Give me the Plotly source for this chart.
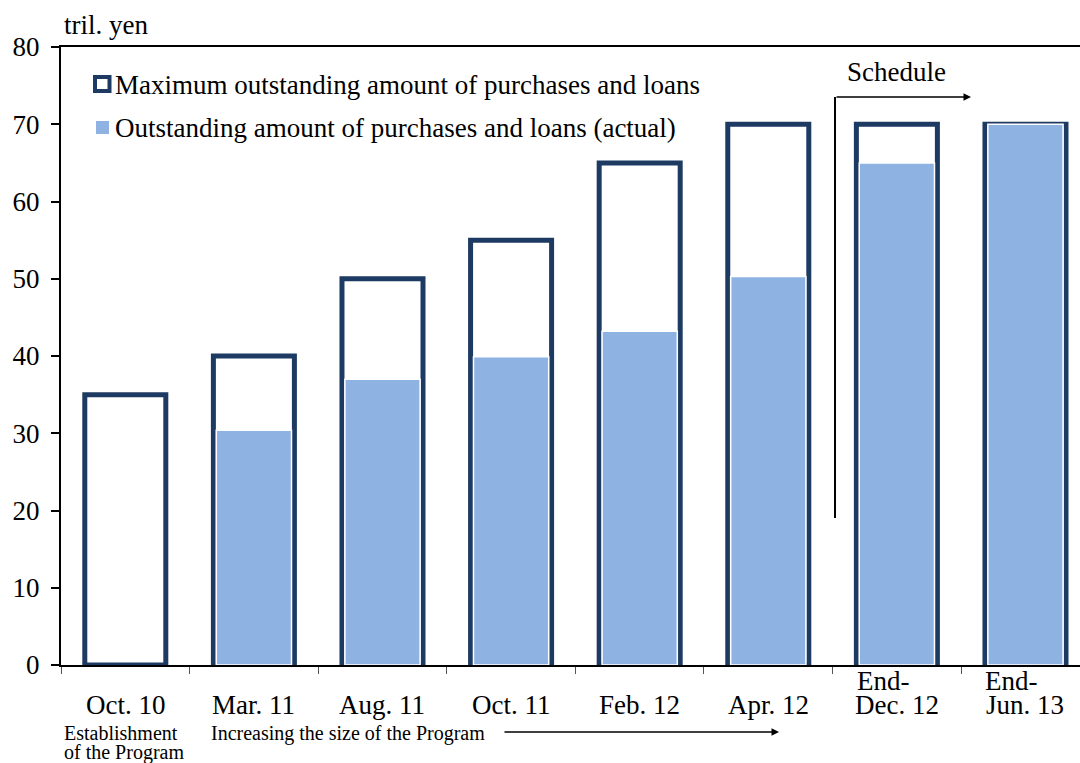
import plotly.graph_objects as go

# ---- data ----
categories = ["Oct. 10", "Mar. 11", "Aug. 11", "Oct. 11", "Feb. 12", "Apr. 12", "End- Dec. 12", "End- Jun. 13"]
tick_main = ["Oct. 10", "Mar. 11", "Aug. 11", "Oct. 11", "Feb. 12", "Apr. 12", "Dec. 12", "Jun. 13"]
tick_top = ["", "", "", "", "", "", "End-", "End-"]
max_amount = [35, 40, 50, 55, 65, 70, 70, 70]
actual_amount = [None, 30.4, 37.0, 39.9, 43.2, 50.3, 65.0, 70.0]
series_names = ["Maximum outstanding amount of purchases and loans",
                "Outstanding amount of purchases and loans (actual)"]

# ---- layout geometry ----
W, H = 1080, 763
L, R, T, B = 61, 0, 47, 98
PW, PH = W - L - R, H - T - B

def px(x):
    return (x - L) / PW

def py(y):
    return (H - B - y) / PH

NAVY = "#1d3a62"
LIGHT = "#8eb3e2"
FONT = "Liberation Serif"
FS = 27

fig = go.Figure()
fig.add_trace(go.Bar(
    x=categories, y=max_amount, name=series_names[0], width=0.63,
    marker=dict(color="white", line=dict(color=NAVY, width=5)),
    showlegend=False,
))
fig.add_trace(go.Bar(
    x=categories, y=actual_amount, name=series_names[1], width=0.585,
    marker=dict(color=LIGHT, line=dict(color="white", width=1.5)),
    showlegend=False,
))

big = dict(family=FONT, size=FS, color="black")
small = dict(family=FONT, size=20, color="black")

annotations = []
for i, (m, t) in enumerate(zip(tick_main, tick_top)):
    annotations.append(dict(x=i, xref="x", y=py(705), yref="paper", text=m,
                            showarrow=False, xanchor="center", yanchor="middle", font=big))
    if t:
        annotations.append(dict(x=i, xref="x", xshift=-42, y=py(681), yref="paper", text=t,
                                showarrow=False, xanchor="left", yanchor="middle", font=big))

annotations += [
    # legend texts
    dict(x=px(113), y=py(85), xref="paper", yref="paper", text=series_names[0], showarrow=False,
         xanchor="left", yanchor="middle", font=big),
    dict(x=px(113), y=py(128), xref="paper", yref="paper", text=series_names[1], showarrow=False,
         xanchor="left", yanchor="middle", font=big),
    dict(x=px(62), y=py(25), xref="paper", yref="paper", text="tril. yen", showarrow=False,
         xanchor="left", yanchor="middle", font=big),
    dict(x=px(62), y=py(733), xref="paper", yref="paper", text="Establishment", showarrow=False,
         xanchor="left", yanchor="middle", font=small),
    dict(x=px(62), y=py(752), xref="paper", yref="paper", text="of the Program", showarrow=False,
         xanchor="left", yanchor="middle", font=small),
    dict(x=px(209), y=py(733), xref="paper", yref="paper", text="Increasing the size of the Program",
         showarrow=False, xanchor="left", yanchor="middle", font=small),
    dict(x=px(779), y=py(732), xref="paper", yref="paper", text="", showarrow=True,
         ax=-276, ay=0, axref="pixel", ayref="pixel", arrowhead=2, arrowsize=1, arrowwidth=1.5,
         arrowcolor="black"),
    dict(x=px(896), y=py(72), xref="paper", yref="paper", text="Schedule", showarrow=False,
         xanchor="center", yanchor="middle", font=big),
    dict(x=px(971), y=py(97), xref="paper", yref="paper", text="", showarrow=True,
         ax=-136, ay=0, axref="pixel", ayref="pixel", arrowhead=2, arrowsize=1, arrowwidth=1.5,
         arrowcolor="black"),
]

shapes = [
    dict(type="line", xref="paper", yref="paper", x0=px(835), x1=px(835), y0=py(97), y1=py(518),
         line=dict(color="black", width=2)),
    # legend symbols
    dict(type="rect", xref="paper", yref="paper", x0=px(95), x1=px(109.5), y0=py(91), y1=py(77),
         fillcolor="white", line=dict(color=NAVY, width=4)),
    dict(type="rect", xref="paper", yref="paper", x0=px(96), x1=px(109), y0=py(134), y1=py(121),
         fillcolor=LIGHT, line=dict(width=0)),
]

fig.update_layout(
    width=W, height=H,
    margin=dict(l=L, r=R, t=T, b=B, pad=0),
    barmode="overlay",
    plot_bgcolor="white", paper_bgcolor="white",
    font=dict(family=FONT, size=FS, color="black"),
    showlegend=False,
    annotations=annotations,
    shapes=shapes,
    xaxis=dict(type="category", range=[-0.5, 7.424], showticklabels=False,
               showline=True, linecolor="black", linewidth=2, mirror=True,
               ticks="outside", ticklen=7, tickwidth=1, tickcolor="#555",
               tickson="boundaries", showgrid=False, zeroline=False, fixedrange=True),
    yaxis=dict(range=[0, 80], dtick=10, tick0=0, showline=True, linecolor="black", linewidth=2,
               ticks="outside", ticklen=8, tickwidth=1.5, tickcolor="black",
               showgrid=False, zeroline=False, fixedrange=True,
               tickfont=dict(family=FONT, size=FS, color="black"), ticklabelstandoff=6),
)

fig.write_html("out.html", config={"displayModeBar": False},
               post_script="document.body.style.margin='0';document.body.style.overflow='hidden';")
